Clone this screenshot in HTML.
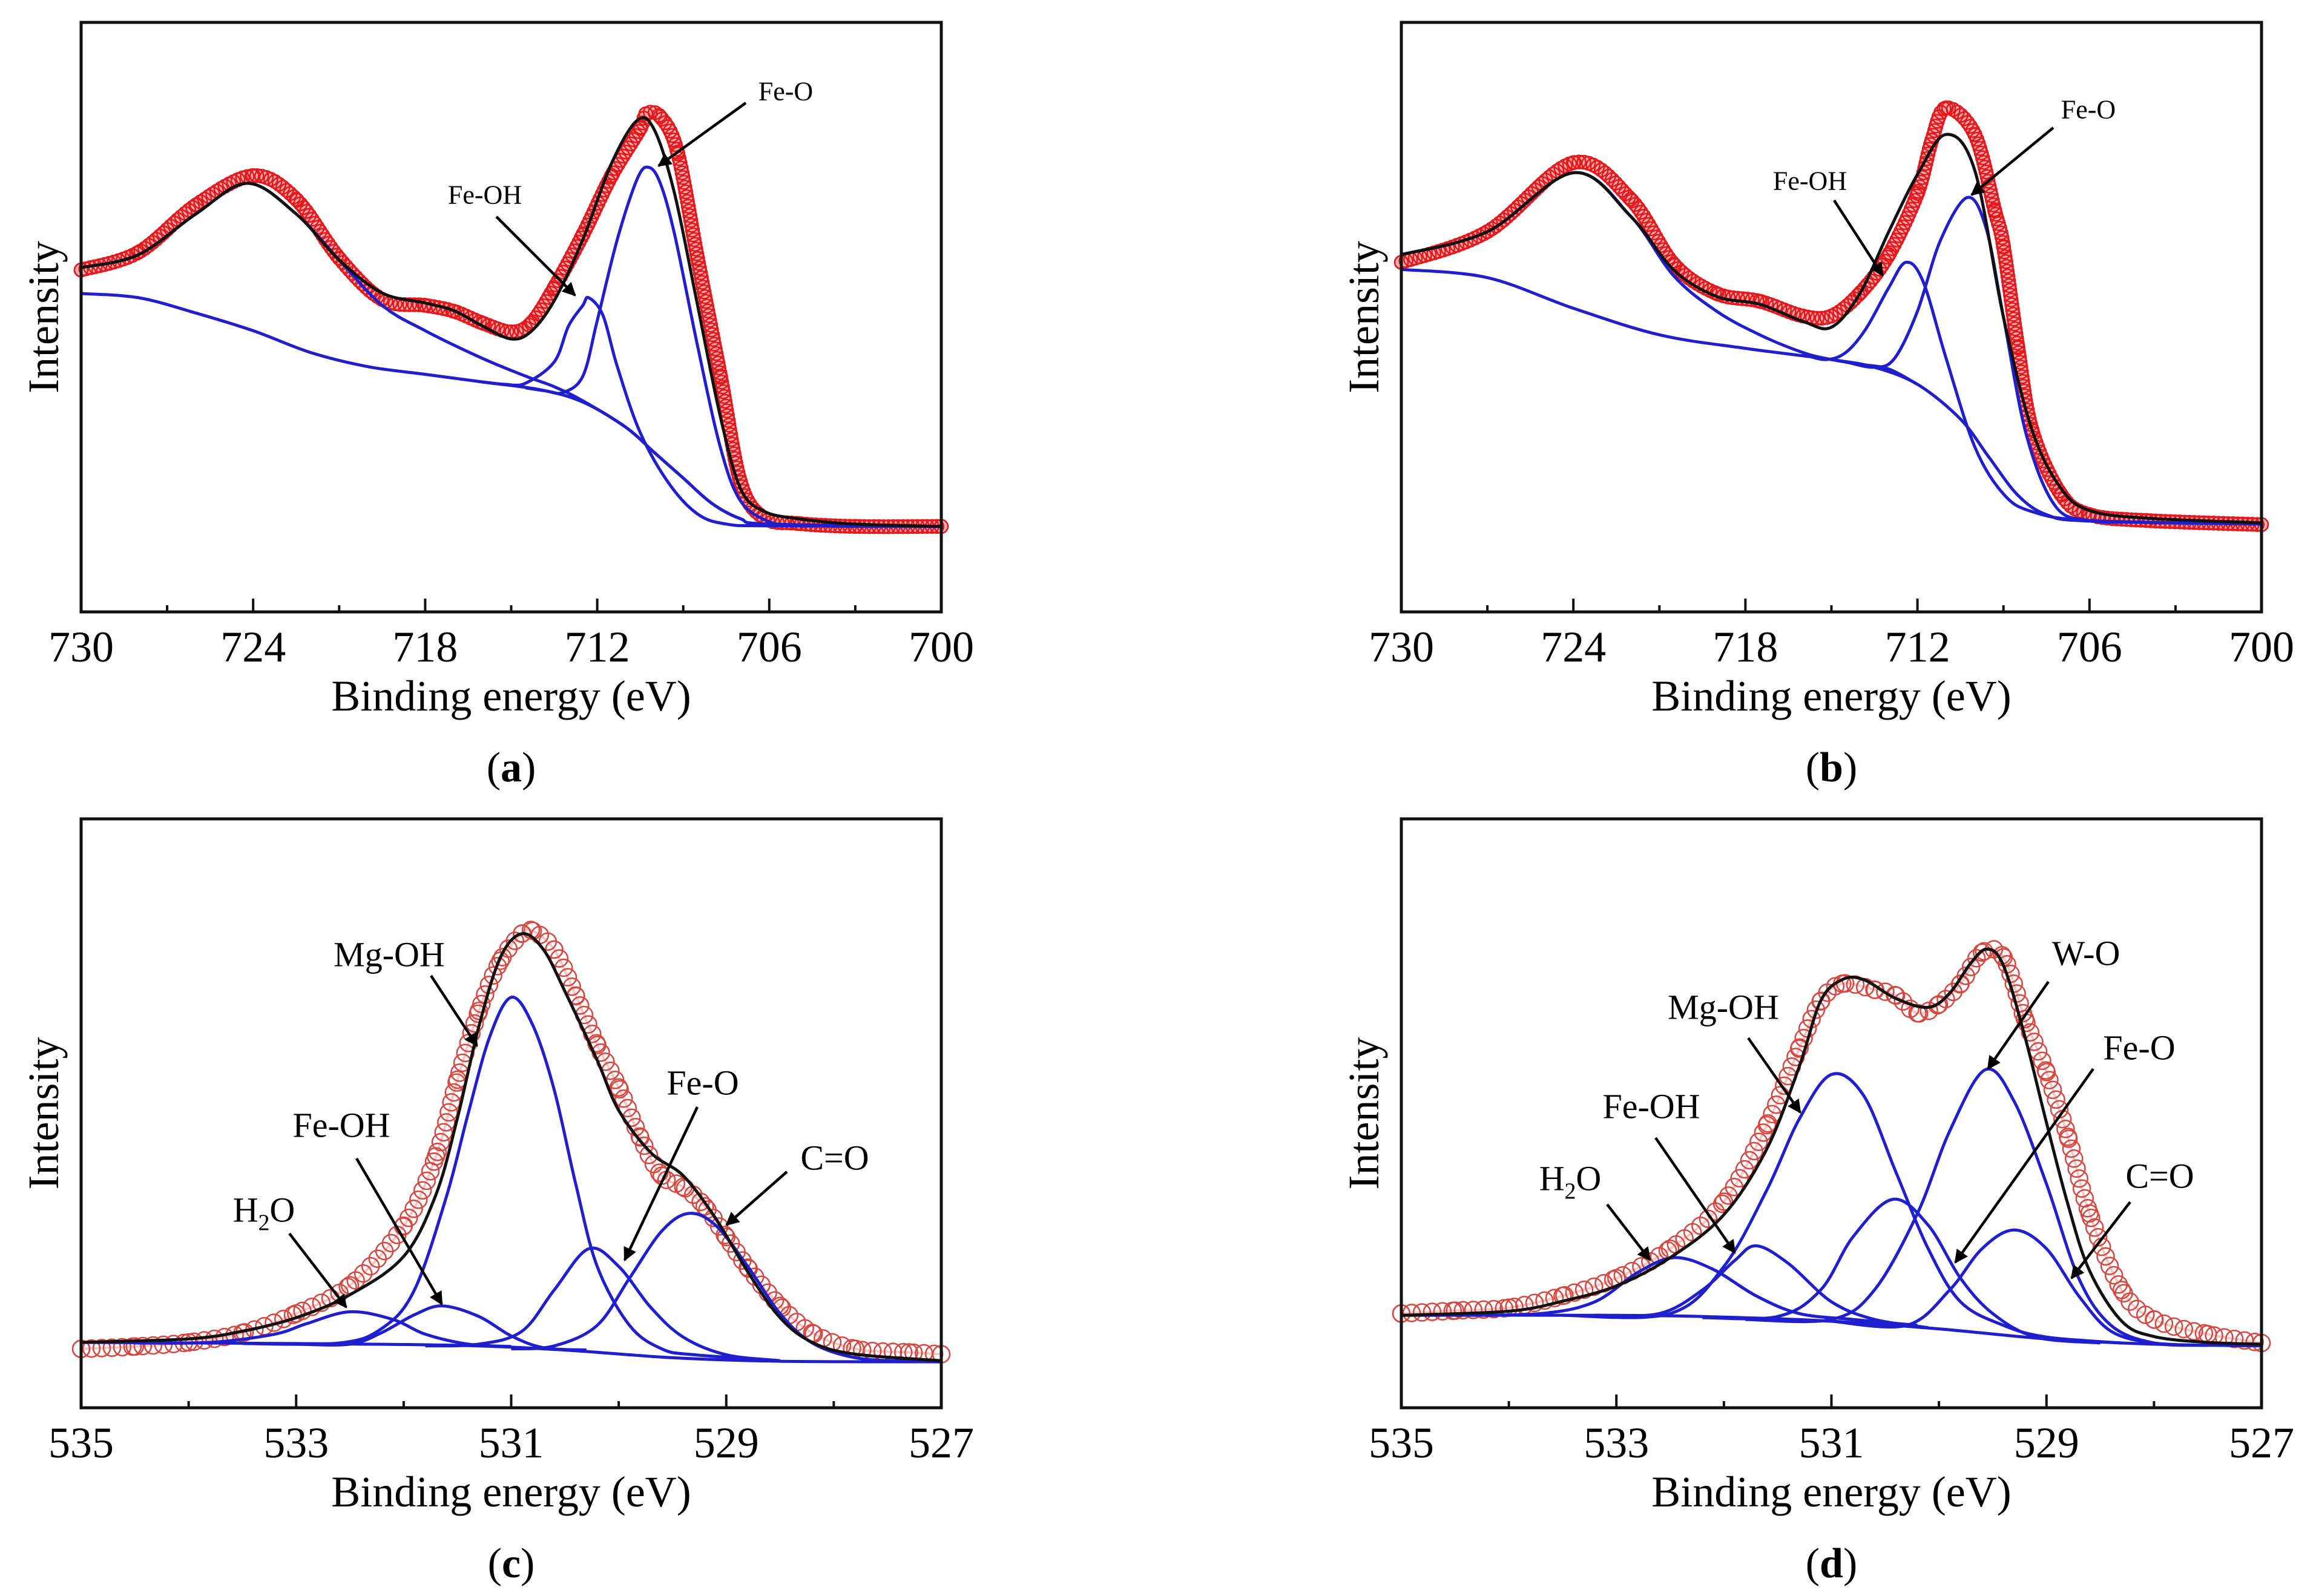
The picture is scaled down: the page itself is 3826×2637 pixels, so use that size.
<!DOCTYPE html>
<html><head><meta charset="utf-8"><style>
html,body{margin:0;padding:0;background:#fff;}
svg{display:block;}
text{font-family:"Liberation Serif",serif;fill:#000;}
</style></head><body>
<svg id="fig" width="3826" height="2637" viewBox="0 0 3826 2637" xmlns="http://www.w3.org/2000/svg">
<defs>
<marker id="ah" viewBox="0 0 10 10" refX="9" refY="5" markerWidth="5" markerHeight="5" orient="auto"><path d="M0,0 L10,5 L0,10 z" fill="#000"/></marker>
</defs>
</svg>
<script>
// ---------- Panel (a) Fe 2p ----------
const aDataE=[730,728,726,724,722.5,721,719.5,718,717,716,715,714.3,713.5,712.5,711.5,710.5,710.3,709.8,709.2,708.5,707.7,707,706.2,705,703,700];
const aDataI=[0.58,0.61,0.69,0.74,0.70,0.60,0.53,0.52,0.51,0.49,0.475,0.49,0.55,0.64,0.74,0.82,0.845,0.84,0.78,0.60,0.40,0.22,0.16,0.15,0.145,0.145];
const aFitE=[730,728,726,724.2,722.5,721,719.5,718,717,716,715,714.3,713.5,712.5,711.5,710.6,710,709.3,708.5,707.7,707,706.2,705,703,700];
const aFitI=[0.584,0.606,0.675,0.727,0.675,0.597,0.541,0.524,0.511,0.485,0.463,0.476,0.528,0.632,0.761,0.834,0.817,0.709,0.52,0.33,0.209,0.171,0.158,0.149,0.145];
const aBgE=[730,728,726,724,722,720,718,716,714,712.5,711,710,709,708,707,706,700];
const aBgI=[0.54,0.533,0.507,0.477,0.44,0.416,0.403,0.39,0.377,0.356,0.313,0.27,0.227,0.184,0.158,0.149,0.145];
const aP724E=[730,728,726,724.2,722.5,721,719.5,718,716,714.5,713.5,712.5,711,710,709,708,707,706,700];
const aP724I=[0.584,0.606,0.675,0.727,0.675,0.597,0.52,0.477,0.43,0.40,0.382,0.358,0.313,0.27,0.227,0.184,0.158,0.149,0.145];
const aFeOHE=[716,715.2,714.5,713.5,713,712.5,712.3,711.8,711.3,710.5,709.5,708.5,707.5,706,700];
const aFeOHI=[0.39,0.386,0.388,0.424,0.485,0.52,0.533,0.503,0.416,0.304,0.218,0.166,0.149,0.146,0.145];
const aFeOE=[714.5,713.8,713.2,712.5,712,711.3,710.6,710.2,709.8,709.3,708.5,707.7,707,706,705,703,700];
const aFeOI=[0.38,0.375,0.372,0.40,0.494,0.632,0.735,0.754,0.727,0.64,0.451,0.278,0.188,0.153,0.147,0.145,0.145];
// ---------- Panel (b) Fe 2p ----------
const bDataE=[730,727,724,722,720.5,719,717.5,716,715,714,713,712,711.5,711,710,709.3,709,708.5,708,707,706,704,700];
const bDataI=[0.593,0.645,0.762,0.70,0.59,0.54,0.527,0.502,0.502,0.541,0.606,0.71,0.80,0.855,0.81,0.68,0.62,0.45,0.308,0.20,0.165,0.155,0.148];
const bFitE=[730,727,724,722,720.5,719,717.5,716,715,714,713,712,711,710,709,708,707,706,704,700];
const bFitI=[0.606,0.645,0.745,0.671,0.58,0.535,0.522,0.493,0.483,0.541,0.645,0.742,0.81,0.749,0.50,0.308,0.21,0.172,0.159,0.151];
const bBgE=[730,727,724,721,718,715,713.5,712,710.5,709.5,708.5,707.5,706,700];
const bBgI=[0.581,0.567,0.515,0.47,0.447,0.428,0.415,0.386,0.327,0.262,0.198,0.165,0.154,0.149];
const bP724E=[730,727,724,722,720.5,719,717.5,716,715,714,713,712];
const bP724I=[0.606,0.645,0.745,0.671,0.57,0.51,0.47,0.44,0.428,0.42,0.412,0.386];
const bFeOHE=[716,715.2,714.5,713.8,713,712.4,711.8,711,710,709,708,706,700];
const bFeOHI=[0.437,0.428,0.44,0.48,0.55,0.593,0.56,0.43,0.28,0.20,0.17,0.155,0.149];
const bFeOE=[714.5,713.5,712.8,712,711.2,710.26,709.6,709,708.2,707.2,706,704,700];
const bFeOI=[0.424,0.415,0.43,0.51,0.63,0.703,0.65,0.50,0.30,0.18,0.155,0.152,0.149];
// ---------- Panel (c) O 1s ----------
const cDataE=[535,534.5,534,533.5,533,532.5,532,531.7,531.5,531.3,531.1,530.9,530.8,530.6,530.4,530.2,530,529.8,529.6,529.4,529.2,529,528.8,528.5,528.2,527.8,527.3,527];
const cDataI=[0.10,0.104,0.111,0.127,0.16,0.208,0.309,0.427,0.557,0.674,0.759,0.805,0.81,0.778,0.70,0.616,0.544,0.459,0.394,0.375,0.342,0.29,0.238,0.173,0.127,0.10,0.094,0.091];
const cFitE=[535,534,533.5,533,532.5,532,531.7,531.5,531.3,531.1,530.9,530.7,530.5,530.2,530,529.7,529.4,529.1,528.8,528.5,528.2,527.8,527];
const cFitI=[0.111,0.117,0.13,0.153,0.192,0.257,0.362,0.492,0.648,0.765,0.805,0.778,0.707,0.59,0.505,0.433,0.394,0.322,0.231,0.153,0.111,0.091,0.08];
const cBgE=[535,533,531.5,530.5,529.5,528.5,527];
const cBgI=[0.111,0.109,0.106,0.098,0.085,0.079,0.078];
const cH2OE=[534.5,533.8,533.2,532.9,532.5,532.1,531.8,531.4,531];
const cH2OI=[0.11,0.111,0.125,0.143,0.163,0.15,0.125,0.108,0.104];
const cFeOHE=[533,532.5,532.2,531.9,531.64,531.3,531.0,530.7,530.3];
const cFeOHI=[0.108,0.108,0.128,0.158,0.173,0.155,0.122,0.102,0.098];
const cMgOHE=[533.5,532.6,532.2,531.9,531.6,531.4,531.2,531.0,530.8,530.6,530.4,530.2,529.9,529.6,529.3,528.5];
const cMgOHI=[0.109,0.11,0.135,0.2,0.36,0.5,0.63,0.697,0.65,0.54,0.38,0.24,0.14,0.1,0.09,0.08];
const cFeOE=[531.8,531.3,530.9,530.6,530.28,530.0,529.7,529.4,529.0,528.5];
const cFeOI=[0.105,0.108,0.13,0.2,0.27,0.24,0.17,0.12,0.09,0.08];
const cCOE=[531,530.6,530.2,529.9,529.6,529.35,529.1,528.8,528.5,528.2,527.8,527.3,527];
const cCOI=[0.10,0.105,0.14,0.22,0.30,0.33,0.31,0.24,0.16,0.11,0.085,0.079,0.078];
// ---------- Panel (d) O 1s ----------
const dDataE=[535,534.5,534,533.5,533,532.5,532,531.6,531.3,531.1,530.9,530.6,530.4,530.2,530,529.8,529.6,529.4,529.2,529,528.8,528.6,528.3,528,527.5,527];
const dDataI=[0.16,0.165,0.17,0.19,0.22,0.27,0.35,0.48,0.61,0.69,0.72,0.71,0.70,0.67,0.685,0.72,0.773,0.765,0.66,0.57,0.46,0.33,0.2,0.15,0.125,0.11];
const dFitE=[535,534,533.5,533,532.5,532,531.6,531.3,531.1,530.9,530.7,530.4,530.1,529.9,529.7,529.55,529.4,529.2,529,528.8,528.6,528.3,528,527.5,527];
const dFitI=[0.157,0.164,0.181,0.207,0.255,0.328,0.44,0.579,0.691,0.727,0.727,0.695,0.68,0.704,0.756,0.779,0.751,0.63,0.484,0.345,0.233,0.147,0.121,0.111,0.108];
const dBgE=[535,533,532,531,530,529,528,527];
const dBgI=[0.157,0.157,0.154,0.147,0.134,0.117,0.108,0.105];
const dH2OE=[534.5,533.7,533.2,532.8,532.46,532.1,531.7,531.3,530.8,530.2];
const dH2OI=[0.157,0.16,0.18,0.23,0.255,0.235,0.19,0.16,0.15,0.14];
const dFeOHE=[533.2,532.6,532.2,531.9,531.7,531.4,531.0,530.6,530.1];
const dFeOHI=[0.157,0.16,0.2,0.25,0.275,0.245,0.18,0.15,0.136];
const dMgOHE=[533.5,532.5,532.0,531.6,531.3,531.0,530.7,530.4,530.1,529.8,529.4,529,528.3];
const dMgOHI=[0.157,0.16,0.24,0.37,0.49,0.566,0.53,0.40,0.27,0.18,0.14,0.12,0.11];
const dFeOE=[532.2,531.5,531.1,530.8,530.43,530.1,529.8,529.5,529.1,528.5];
const dFeOI=[0.153,0.155,0.2,0.29,0.354,0.31,0.22,0.16,0.12,0.11];
const dWOE=[531.8,531.0,530.6,530.2,529.9,529.57,529.3,529.0,528.7,528.4,528.0,527.5];
const dWOI=[0.15,0.15,0.2,0.33,0.47,0.574,0.52,0.38,0.22,0.14,0.11,0.106];
const dCOE=[531,530.3,529.9,529.6,529.3,529.0,528.7,528.4,528.0,527.5];
const dCOI=[0.147,0.14,0.2,0.27,0.302,0.27,0.19,0.13,0.11,0.106];
// tick labels
const feTicks=[730,724,718,712,706,700];
const oTicks=[535,533,531,529,527];

const NS='http://www.w3.org/2000/svg';
const svg=document.getElementById('fig');
function el(tag,attrs,parent){const e=document.createElementNS(NS,tag);for(const k in attrs)e.setAttribute(k,attrs[k]);(parent||svg).appendChild(e);return e;}

function smoothPath(pts){
  let d='M'+pts[0][0].toFixed(1)+','+pts[0][1].toFixed(1);
  for(let i=0;i<pts.length-1;i++){
    const p0=pts[Math.max(0,i-1)],p1=pts[i],p2=pts[i+1],p3=pts[Math.min(pts.length-1,i+2)];
    const c1x=p1[0]+(p2[0]-p0[0])/6,c1y=p1[1]+(p2[1]-p0[1])/6;
    const c2x=p2[0]-(p3[0]-p1[0])/6,c2y=p2[1]-(p3[1]-p1[1])/6;
    d+=' C'+c1x.toFixed(1)+','+c1y.toFixed(1)+' '+c2x.toFixed(1)+','+c2y.toFixed(1)+' '+p2[0].toFixed(1)+','+p2[1].toFixed(1);
  }
  return d;
}

function panel(cfg){
  const g=el('g',{});
  
  
  const L=cfg.x0,R=cfg.x1,T=cfg.y0,B=cfg.y1;
  const xs=E=>L+(cfg.eMax-E)/(cfg.eMax-cfg.eMin)*(R-L);
  const ys=I=>B-I*(B-T);
  const pts=(E,I)=>E.map((e,i)=>[xs(e),ys(I[i])]);
  const dpts=pts(cfg.dataE,cfg.dataI);
  const band=el('path',{d:smoothPath(dpts),fill:'none',stroke:cfg.red,'stroke-width':cfg.band,'stroke-opacity':cfg.bandOp,'stroke-linecap':'round'},g);
  
  
  const len=band.getTotalLength();
  for(let s=0;s<=len;s+=cfg.mstep){
    const p=band.getPointAtLength(s);
    const c=el('circle',{cx:p.x.toFixed(1),cy:p.y.toFixed(1),r:cfg.mr,fill:'none',stroke:cfg.red,'stroke-width':2.5},g);
    
    
  }
  dpts.forEach(p=>{
    const c=el('circle',{cx:p[0].toFixed(1),cy:p[1].toFixed(1),r:cfg.mr,fill:'none',stroke:cfg.red,'stroke-width':2.5},g);
    
    
  });
  cfg.comps.forEach(c=>{
    const p=el('path',{d:smoothPath(pts(c[1],c[2])),fill:'none',stroke:'#1f1fd0','stroke-width':5,'stroke-linejoin':'round'},g);
    
    
  });
  const f=el('path',{d:smoothPath(pts(cfg.fitE,cfg.fitI)),fill:'none',stroke:'#111','stroke-width':5},g);
  
  
  const fr=el('rect',{x:L,y:T,width:R-L,height:B-T,fill:'none',stroke:'#111','stroke-width':5},g);
  
  
  for(let E=cfg.eMax;E>=cfg.eMin-1e-9;E-=cfg.minor){
    const major=Math.abs(((cfg.eMax-E)/cfg.major)-Math.round((cfg.eMax-E)/cfg.major))<1e-6;
    const t=el('line',{x1:xs(E),x2:xs(E),y1:B,y2:B-(major?22:11),stroke:'#111','stroke-width':4},g);
    
    
  }
  cfg.ticks.forEach(v=>{
    const t=el('text',{x:xs(v),y:B+82,'font-size':72,'text-anchor':'middle'},g);
    t.textContent=v;
    
    
  });
  const xl=el('text',{x:(L+R)/2,y:B+163,'font-size':72,'text-anchor':'middle'},g);
  xl.textContent='Binding energy (eV)';
  
  
  const yl=el('text',{x:0,y:0,'font-size':72,'text-anchor':'middle',transform:'translate('+(L-38)+','+((T+B)/2)+') rotate(-90)'},g);
  yl.textContent='Intensity';
  
  
  const pl=el('text',{x:(L+R)/2,y:B+280,'font-size':70,'text-anchor':'middle'},g);
  pl.innerHTML='(<tspan font-weight="bold">'+cfg.letter+'</tspan>)';
  
  
  cfg.ann.forEach(a=>{
    const t=el('text',{x:a[1],y:a[2]+cfg.afs*0.35,'font-size':cfg.afs,'text-anchor':'middle'},g);
    if(a[0]==='H2O'){t.innerHTML='H<tspan font-size="'+(cfg.afs*0.65)+'" dy="14">2</tspan><tspan dy="-14">O</tspan>';}
    else t.textContent=a[0];
    
    
    const ar=el('line',{x1:a[3],y1:a[4],x2:a[5],y2:a[6],stroke:'#000','stroke-width':4.5,'marker-end':'url(#ah)'},g);
    
    
  });
}

panel({name:'panel-a',letter:'a',x0:134,x1:1555,y0:37,y1:1011,eMax:730,eMin:700,major:6,minor:3,ticks:feTicks,
  dataE:aDataE,dataI:aDataI,fitE:aFitE,fitI:aFitI,red:'#e8161a',band:22,bandOp:0.35,mr:11,mstep:8,afs:44,
  comps:[['background',aBgE,aBgI],['fe2p12-component',aP724E,aP724I],['fe-oh-component',aFeOHE,aFeOHI],['fe-o-component',aFeOE,aFeOI]],
  ann:[['Fe-O',1298,150,1232,170,1088,274],['Fe-OH',801,321,820,358,950,488]]});
panel({name:'panel-b',letter:'b',x0:2315,x1:3736,y0:37,y1:1011,eMax:730,eMin:700,major:6,minor:3,ticks:feTicks,
  dataE:bDataE,dataI:bDataI,fitE:bFitE,fitI:bFitI,red:'#e8161a',band:22,bandOp:0.35,mr:11,mstep:8,afs:44,
  comps:[['background',bBgE,bBgI],['fe2p12-component',bP724E,bP724I],['fe-oh-component',bFeOHE,bFeOHI],['fe-o-component',bFeOE,bFeOI]],
  ann:[['Fe-O',3450,180,3392,211,3257,322],['Fe-OH',2990,298,3030,331,3110,455]]});
panel({name:'panel-c',letter:'c',x0:134,x1:1555,y0:1353,y1:2326,eMax:535,eMin:527,major:2,minor:1,ticks:oTicks,
  dataE:cDataE,dataI:cDataI,fitE:cFitE,fitI:cFitI,red:'#d9463f',band:4,bandOp:0.3,mr:14,mstep:17,afs:58,
  comps:[['background',cBgE,cBgI],['h2o-component',cH2OE,cH2OI],['fe-oh-component',cFeOHE,cFeOHI],['mg-oh-component',cMgOHE,cMgOHI],['fe-o-component',cFeOE,cFeOI],['c-o-component',cCOE,cCOI]],
  ann:[['Mg-OH',643,1576,712,1612,788,1728],['Fe-OH',564,1858,589,1914,730,2155],['H2O',436,1998,478,2038,572,2160],['Fe-O',1161,1788,1152,1829,1032,2082],['C=O',1379,1912,1300,1936,1200,2024]]});
panel({name:'panel-d',letter:'d',x0:2315,x1:3736,y0:1353,y1:2326,eMax:535,eMin:527,major:2,minor:1,ticks:oTicks,
  dataE:dDataE,dataI:dDataI,fitE:dFitE,fitI:dFitI,red:'#d9463f',band:4,bandOp:0.3,mr:14,mstep:17,afs:58,
  comps:[['background',dBgE,dBgI],['h2o-component',dH2OE,dH2OI],['fe-oh-component',dFeOHE,dFeOHI],['mg-oh-component',dMgOHE,dMgOHI],['fe-o-component',dFeOE,dFeOI],['w-o-component',dWOE,dWOI],['c-o-component',dCOE,dCOI]],
  ann:[['W-O',3446,1574,3384,1622,3284,1766],['Fe-O',3534,1730,3458,1766,3230,2086],['C=O',3568,1942,3519,1986,3422,2112],['Mg-OH',2847,1663,2888,1715,2974,1838],['Fe-OH',2728,1827,2735,1880,2866,2070],['H2O',2594,1946,2655,1990,2726,2082]]});
</script>
</body></html>
